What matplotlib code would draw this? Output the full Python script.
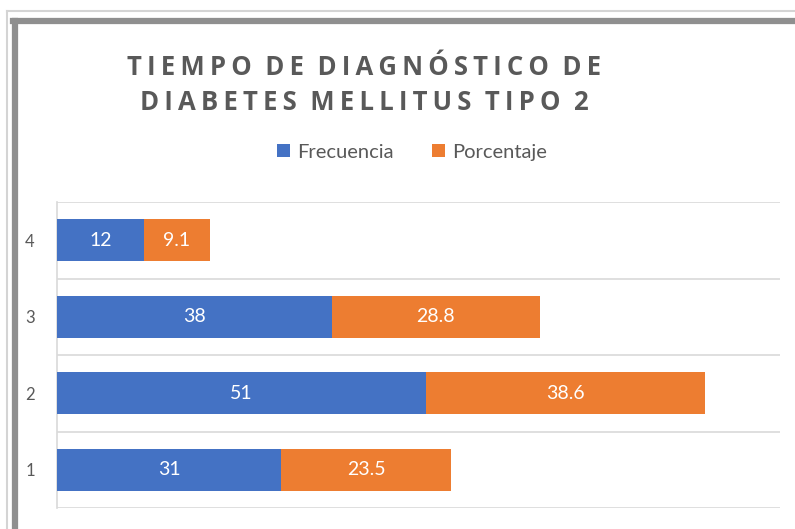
import matplotlib.pyplot as plt
import numpy as np
from matplotlib.lines import Line2D

categories = ["1", "2", "3", "4"]
frecuencia = [31, 51, 38, 12]
porcentaje = [23.5, 38.6, 28.8, 9.1]

blue = "#4472C4"
orange = "#ED7D31"
gray_text = "#595959"

fig = plt.figure(figsize=(7.95, 5.29), dpi=100)
ax = fig.add_axes([57 / 795, 1 - 508 / 529, (780 - 57) / 795, (508 - 202) / 529])

y = np.arange(len(categories))
h = 0.55
b1 = ax.barh(y, frecuencia, height=h, color=blue, label="Frecuencia", zorder=3)
b2 = ax.barh(y, porcentaje, height=h, left=frecuencia, color=orange, label="Porcentaje", zorder=3)

for bars in (b1, b2):
    for bar in bars:
        w = bar.get_width()
        ax.text(bar.get_x() + w / 2, bar.get_y() + bar.get_height() / 2, f"{w:g}",
                ha="center", va="center", color="white", fontsize=14, family="Lato", zorder=4)

ax.set_xlim(0, 100)
ax.set_ylim(-0.5, len(categories) - 0.5)
ax.set_yticks(y)
ax.set_yticklabels(categories, fontsize=12, color=gray_text, family="Lato")
ax.set_xticks([])
ax.set_yticks(np.arange(-0.5, len(categories), 1), minor=True)
ax.tick_params(axis="y", which="both", length=0, pad=16)
ax.grid(axis="y", which="minor", color="#d9d9d9", linewidth=1.2)
for s in ["top", "right", "bottom"]:
    ax.spines[s].set_visible(False)
ax.spines["left"].set_color("#d9d9d9")
ax.spines["left"].set_linewidth(1.2)


def spaced(s):
    # letter spacing with thin spaces
    return "\u2009".join(s).replace("\u2009 \u2009", "  ")


title_lines = ["TIEMPO DE DIAGNÓSTICO DE", "DIABETES MELLITUS TIPO 2"]
fig.text(364 / 795, 1 - 85 / 529, "\n".join(spaced(t) for t in title_lines),
         ha="center", va="center", fontsize=18.5, fontweight="bold", color=gray_text,
         family=["Open Sans", "DejaVu Sans"], linespacing=1.4)

fig.legend(handles=[b1, b2], labels=["Frecuencia", "Porcentaje"], loc="center",
           bbox_to_anchor=(412 / 795, 1 - 152 / 529), ncol=2, frameon=False,
           prop={"family": "Lato", "size": 14.5}, labelcolor=gray_text,
           handlelength=0.65, handleheight=0.65, handletextpad=0.35, columnspacing=1.9)

# frame lines
fig.add_artist(Line2D([7 / 795, 7 / 795], [0, 1 - 11 / 529], color="#d4d4d4", linewidth=1.5))
fig.add_artist(Line2D([7 / 795, 1], [1 - 11 / 529, 1 - 11 / 529], color="#d4d4d4", linewidth=1.5))
fig.add_artist(Line2D([15 / 795, 15 / 795], [0, 1 - 21 / 529], color="#8f8f8f", linewidth=4.5))
fig.add_artist(Line2D([13 / 795, 1], [1 - 21 / 529, 1 - 21 / 529], color="#8f8f8f", linewidth=4.5))

fig.savefig("out.png", dpi=100)
